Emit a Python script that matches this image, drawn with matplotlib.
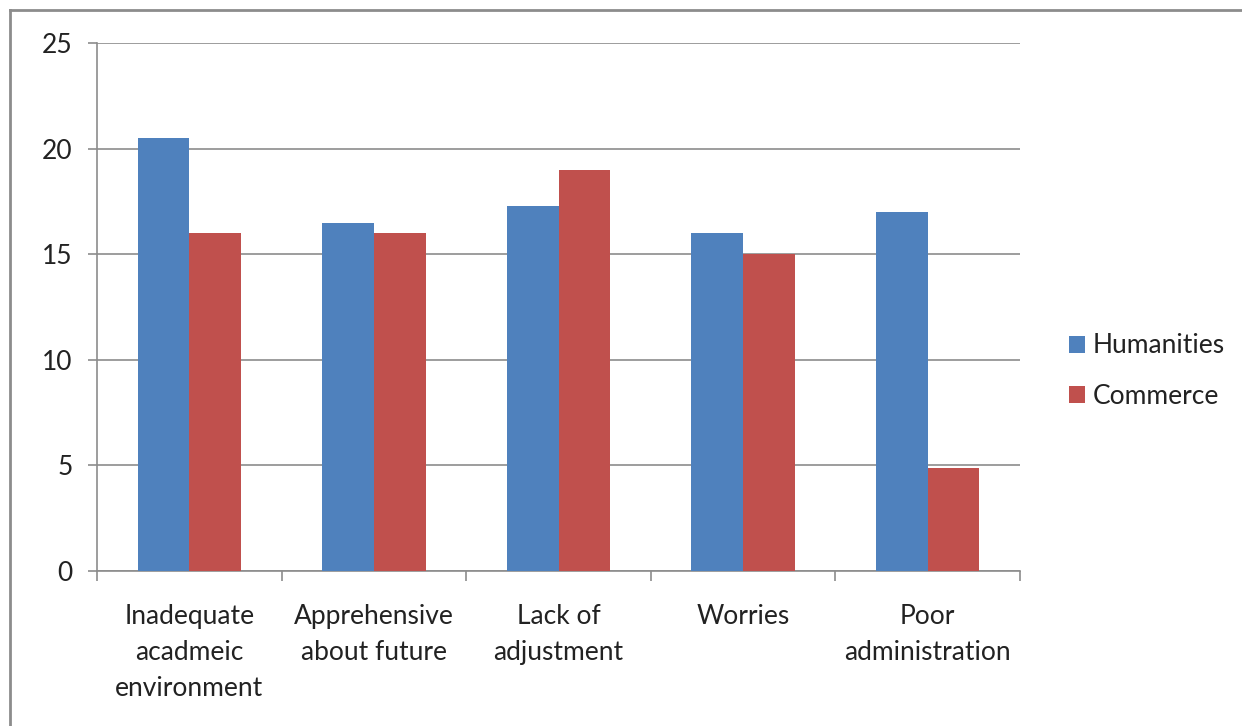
import numpy as np
import matplotlib.pyplot as plt
from matplotlib.lines import Line2D

categories = ["Inadequate\nacadmeic\nenvironment", "Apprehensive\nabout future",
              "Lack of\nadjustment", "Worries", "Poor\nadministration"]
humanities = [20.5, 16.5, 17.3, 16, 17]
commerce = [16, 16, 19, 15, 4.9]
yticks = [0, 5, 10, 15, 20, 25]

plt.rcParams['font.family'] = ['Lato', 'DejaVu Sans']

fig = plt.figure(figsize=(12.42, 7.26), dpi=100)
ax = fig.add_axes([97/1242, 1 - 571/726, (1020-97)/1242, (571-43)/726])

# gray frame (only top and left edges visible in the crop)
fx, fy = 10/1242, 1 - 10/726
fig.lines.append(Line2D([fx, 1.0], [fy, fy], transform=fig.transFigure,
                        color='#8c8c8c', linewidth=2))
fig.lines.append(Line2D([fx, fx], [0.0, fy], transform=fig.transFigure,
                        color='#8c8c8c', linewidth=2))

x = np.arange(len(categories))
w = 0.28
ax.bar(x - w/2, humanities, w, color='#4F81BD', label='Humanities', zorder=3)
ax.bar(x + w/2, commerce, w, color='#C0504D', label='Commerce', zorder=3)

ax.set_xlim(-0.5, len(categories) - 0.5)
ax.set_ylim(0, 25)
ax.set_yticks(yticks)
ax.yaxis.grid(True, color='#8c8c8c', linewidth=1.2, zorder=0)

ax.set_xticks(np.arange(len(categories) + 1) - 0.5)
ax.set_xticklabels([])
ax.set_xticks(x, minor=True)
ax.set_xticklabels(categories, minor=True, fontsize=19, color='#222222', linespacing=1.55)
ax.tick_params(axis='x', which='minor', length=0, pad=24)
ax.tick_params(axis='x', which='major', length=7, color='#8c8c8c', width=1.2)
ax.tick_params(axis='y', length=6.5, color='#8c8c8c', width=1.2, labelsize=19,
               labelcolor='#222222', pad=11)

for s in ['top', 'right']:
    ax.spines[s].set_visible(False)
for s in ['left', 'bottom']:
    ax.spines[s].set_color('#8c8c8c')
    ax.spines[s].set_linewidth(1.2)

ax.legend(loc='center left', bbox_to_anchor=(1045/1242, 1 - 371/726), bbox_transform=fig.transFigure,
          frameon=False, fontsize=19, handlelength=0.6, handleheight=0.6,
          handletextpad=0.3, labelspacing=0.95, labelcolor='#222222')

fig.savefig('out.png', dpi=100)
